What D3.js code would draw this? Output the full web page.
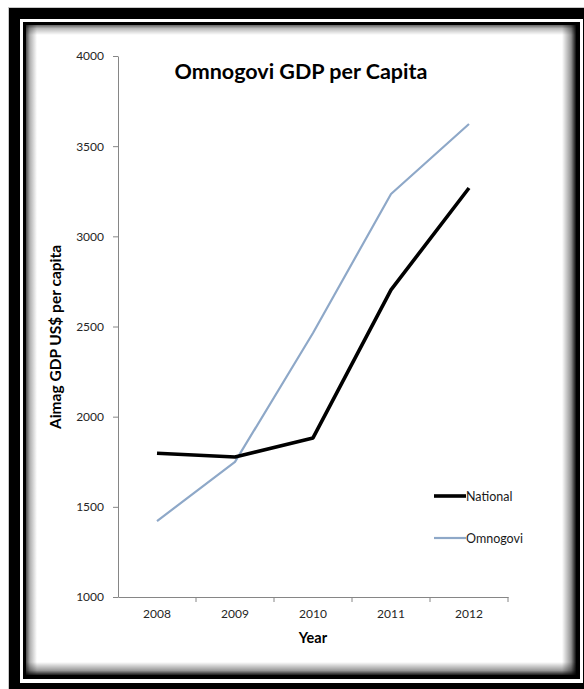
<!DOCTYPE html>
<html>
<head>
<meta charset="utf-8">
<script src="https://cdn.jsdelivr.net/npm/d3@7"></script>
<style>
  html, body { margin: 0; padding: 0; background: #fff; }
  svg { display: block; }
  text { font-family: Lato, "Open Sans", sans-serif; }
</style>
</head>
<body>
<svg id="chart" width="584" height="689"></svg>
<script>
// GDP per capita (US$), national average vs. Omnogovi aimag
const years = ["2008", "2009", "2010", "2011", "2012"];
const national = [1797, 1776, 1882, 2703, 3268];
const omnogovi = [1421, 1749, 2464, 3235, 3623];
const seriesNames = ["National", "Omnogovi"];
const yTicks = [1000, 1500, 2000, 2500, 3000, 3500, 4000];

const svg = d3.select("#chart");
const defs = svg.append("defs");

// ---- double black frame with an inset shadow ----
svg.append("rect").attr("x", 8.5).attr("y", 7.5).attr("width", 590).attr("height", 700)
  .attr("fill", "none").attr("stroke", "#c8c8c8");
svg.append("rect").attr("x", 9).attr("y", 8).attr("width", 590).attr("height", 700).attr("fill", "#000");
svg.append("rect").attr("x", 20).attr("y", 19).attr("width", 563).attr("height", 664).attr("fill", "#fff");
svg.append("rect").attr("x", 23).attr("y", 22).attr("width", 557).attr("height", 657).attr("fill", "#000");

const panel = { x: 26, y: 25, w: 550, h: 650 };
svg.append("rect").attr("x", panel.x).attr("y", panel.y).attr("width", panel.w).attr("height", panel.h).attr("fill", "#fff");

function edgeGradient(id, x1, y1, x2, y2, dark) {
  const g = defs.append("linearGradient").attr("id", id)
    .attr("x1", x1).attr("y1", y1).attr("x2", x2).attr("y2", y2);
  g.append("stop").attr("offset", "0%").attr("stop-color", "#000").attr("stop-opacity", dark);
  g.append("stop").attr("offset", "35%").attr("stop-color", "#000").attr("stop-opacity", dark * 0.45);
  g.append("stop").attr("offset", "100%").attr("stop-color", "#000").attr("stop-opacity", 0);
}
edgeGradient("shL", 0, 0, 1, 0, 0.7);
edgeGradient("shT", 0, 0, 0, 1, 0.6);
edgeGradient("shR", 1, 0, 0, 0, 0.95);
edgeGradient("shB", 0, 1, 0, 0, 0.9);
const shadow = svg.append("g");
shadow.append("rect").attr("x", panel.x).attr("y", panel.y).attr("width", 11).attr("height", panel.h).attr("fill", "url(#shL)");
shadow.append("rect").attr("x", panel.x).attr("y", panel.y).attr("width", panel.w).attr("height", 10).attr("fill", "url(#shT)");
shadow.append("rect").attr("x", panel.x + panel.w - 14).attr("y", panel.y).attr("width", 14).attr("height", panel.h).attr("fill", "url(#shR)");
shadow.append("rect").attr("x", panel.x).attr("y", panel.y + panel.h - 13).attr("width", panel.w).attr("height", 13).attr("fill", "url(#shB)");

// ---- scales ----
const x = d3.scaleBand().domain(years).range([118, 508]).padding(0);
const y = d3.scaleLinear().domain([1000, 4000]).range([597, 56]);
const cx = d => x(d) + x.bandwidth() / 2;
const axisColor = "#868686";

// y axis
const yAxis = svg.append("g").attr("transform", "translate(118,0)")
  .call(d3.axisLeft(y).tickValues(yTicks).tickSize(5).tickSizeOuter(0).tickPadding(9).tickFormat(d3.format("d")));
yAxis.select(".domain").attr("stroke", axisColor);
yAxis.selectAll(".tick line").attr("stroke", axisColor);
yAxis.selectAll(".tick text").attr("fill", "#262626").style("font-size", "12px");

// x axis: labels at category centres, ticks on category boundaries
const xAxis = svg.append("g").attr("transform", "translate(0,597)")
  .call(d3.axisBottom(x).tickSize(0).tickSizeOuter(0).tickPadding(12));
xAxis.select(".domain").attr("stroke", axisColor);
xAxis.selectAll(".tick text").attr("fill", "#262626").style("font-size", "12px");
const bounds = years.map(d => x(d)).concat([x.range()[1]]);
svg.append("g").selectAll("line").data(bounds.slice(1)).join("line")
  .attr("x1", d => d).attr("x2", d => d).attr("y1", 597).attr("y2", 602)
  .attr("stroke", axisColor);

// ---- lines ----
const line = d3.line().x((d, i) => cx(years[i])).y(d => y(d));
svg.append("path").datum(omnogovi).attr("d", line)
  .attr("fill", "none").attr("stroke", "#8ea8c8").attr("stroke-width", 2.2).attr("stroke-linejoin", "round");
svg.append("path").datum(national).attr("d", line)
  .attr("fill", "none").attr("stroke", "#000").attr("stroke-width", 3.6).attr("stroke-linejoin", "round");

// ---- titles ----
svg.append("text").attr("x", 301).attr("y", 79).attr("text-anchor", "middle")
  .style("font-size", "21.5px").style("font-weight", "bold").attr("fill", "#000")
  .text("Omnogovi GDP per Capita");
svg.append("text").attr("transform", "translate(61,337) rotate(-90)").attr("text-anchor", "middle")
  .style("font-size", "15.5px").style("font-weight", "bold").attr("fill", "#000")
  .text("Aimag GDP US$ per capita");
svg.append("text").attr("x", 313).attr("y", 643).attr("text-anchor", "middle")
  .style("font-size", "14.5px").style("font-weight", "bold").attr("fill", "#000")
  .text("Year");

// ---- legend ----
const legendStyles = [
  { color: "#000", width: 3.6 },
  { color: "#8ea8c8", width: 2.2 }
];
const legend = svg.append("g").selectAll("g").data(seriesNames).join("g")
  .attr("transform", (d, i) => `translate(434,${496 + i * 42})`);
legend.append("line").attr("x1", 0).attr("x2", 32).attr("y1", 0).attr("y2", 0)
  .attr("stroke", (d, i) => legendStyles[i].color).attr("stroke-width", (d, i) => legendStyles[i].width);
legend.append("text").attr("x", 32).attr("y", 4.5).style("font-size", "12.5px").attr("fill", "#1a1a1a")
  .text(d => d);
</script>
</body>
</html>
